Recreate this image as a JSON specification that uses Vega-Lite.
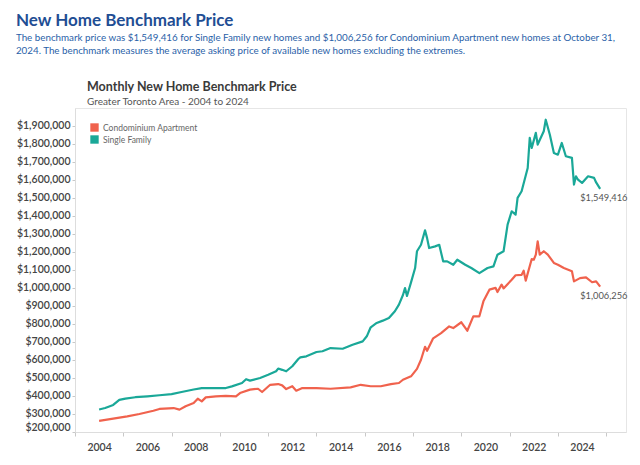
{
  "$schema": "https://vega.github.io/schema/vega-lite/v6.json",
  "background": "white",
  "padding": {"left": 15, "top": 12, "right": 13, "bottom": 5},
  "title": {
    "text": "New Home Benchmark Price",
    "subtitle": ["The benchmark price was $1,549,416 for Single Family new homes and $1,006,256 for Condominium Apartment new homes at October 31,", "2024. The benchmark measures the average asking price of available new homes excluding the extremes."],
    "anchor": "start",
    "frame": "bounds",
    "font": "Lato",
    "fontSize": 17,
    "fontWeight": "bold",
    "color": "#1f4e94",
    "subtitleFont": "Lato",
    "subtitleFontSize": 9.8,
    "subtitleColor": "#2a5fa8",
    "subtitlePadding": 3,
    "subtitleLineHeight": 13,
    "offset": 23
  },
  "datasets": {
    "prices": [
      {"date": "2004-01-01", "type": "Single Family", "price": 325000},
      {"date": "2004-04-01", "type": "Single Family", "price": 333000},
      {"date": "2004-08-01", "type": "Single Family", "price": 350000},
      {"date": "2004-11-01", "type": "Single Family", "price": 378000},
      {"date": "2005-02-01", "type": "Single Family", "price": 385000},
      {"date": "2005-07-01", "type": "Single Family", "price": 393000},
      {"date": "2006-01-01", "type": "Single Family", "price": 398000},
      {"date": "2006-07-01", "type": "Single Family", "price": 404000},
      {"date": "2007-01-01", "type": "Single Family", "price": 410000},
      {"date": "2007-06-01", "type": "Single Family", "price": 422000},
      {"date": "2007-12-01", "type": "Single Family", "price": 436000},
      {"date": "2008-04-01", "type": "Single Family", "price": 443000},
      {"date": "2008-09-01", "type": "Single Family", "price": 444000},
      {"date": "2009-04-01", "type": "Single Family", "price": 444000},
      {"date": "2009-07-01", "type": "Single Family", "price": 453000},
      {"date": "2009-12-01", "type": "Single Family", "price": 472000},
      {"date": "2010-02-01", "type": "Single Family", "price": 493000},
      {"date": "2010-04-01", "type": "Single Family", "price": 485000},
      {"date": "2010-09-01", "type": "Single Family", "price": 500000},
      {"date": "2011-01-01", "type": "Single Family", "price": 518000},
      {"date": "2011-05-01", "type": "Single Family", "price": 537000},
      {"date": "2011-06-01", "type": "Single Family", "price": 552000},
      {"date": "2011-08-01", "type": "Single Family", "price": 545000},
      {"date": "2011-10-01", "type": "Single Family", "price": 537000},
      {"date": "2012-01-01", "type": "Single Family", "price": 565000},
      {"date": "2012-04-01", "type": "Single Family", "price": 605000},
      {"date": "2012-05-01", "type": "Single Family", "price": 614000},
      {"date": "2012-08-01", "type": "Single Family", "price": 620000},
      {"date": "2013-01-01", "type": "Single Family", "price": 644000},
      {"date": "2013-04-01", "type": "Single Family", "price": 648000},
      {"date": "2013-08-01", "type": "Single Family", "price": 666000},
      {"date": "2014-02-01", "type": "Single Family", "price": 662000},
      {"date": "2014-07-01", "type": "Single Family", "price": 684000},
      {"date": "2014-12-01", "type": "Single Family", "price": 703000},
      {"date": "2015-02-01", "type": "Single Family", "price": 731000},
      {"date": "2015-04-01", "type": "Single Family", "price": 781000},
      {"date": "2015-07-01", "type": "Single Family", "price": 805000},
      {"date": "2015-10-01", "type": "Single Family", "price": 818000},
      {"date": "2016-01-01", "type": "Single Family", "price": 833000},
      {"date": "2016-04-01", "type": "Single Family", "price": 870000},
      {"date": "2016-06-01", "type": "Single Family", "price": 907000},
      {"date": "2016-08-01", "type": "Single Family", "price": 960000},
      {"date": "2016-09-01", "type": "Single Family", "price": 999000},
      {"date": "2016-10-01", "type": "Single Family", "price": 955000},
      {"date": "2016-12-01", "type": "Single Family", "price": 1030000},
      {"date": "2017-02-01", "type": "Single Family", "price": 1110000},
      {"date": "2017-03-01", "type": "Single Family", "price": 1203000},
      {"date": "2017-05-01", "type": "Single Family", "price": 1239000},
      {"date": "2017-07-01", "type": "Single Family", "price": 1319000},
      {"date": "2017-08-01", "type": "Single Family", "price": 1276000},
      {"date": "2017-09-01", "type": "Single Family", "price": 1221000},
      {"date": "2017-12-01", "type": "Single Family", "price": 1230000},
      {"date": "2018-02-01", "type": "Single Family", "price": 1239000},
      {"date": "2018-04-01", "type": "Single Family", "price": 1147000},
      {"date": "2018-06-01", "type": "Single Family", "price": 1147000},
      {"date": "2018-09-01", "type": "Single Family", "price": 1128000},
      {"date": "2018-11-01", "type": "Single Family", "price": 1156000},
      {"date": "2019-03-01", "type": "Single Family", "price": 1128000},
      {"date": "2019-06-01", "type": "Single Family", "price": 1110000},
      {"date": "2019-10-01", "type": "Single Family", "price": 1082000},
      {"date": "2020-02-01", "type": "Single Family", "price": 1110000},
      {"date": "2020-05-01", "type": "Single Family", "price": 1119000},
      {"date": "2020-07-01", "type": "Single Family", "price": 1184000},
      {"date": "2020-10-01", "type": "Single Family", "price": 1203000},
      {"date": "2020-12-01", "type": "Single Family", "price": 1351000},
      {"date": "2021-02-01", "type": "Single Family", "price": 1425000},
      {"date": "2021-04-01", "type": "Single Family", "price": 1406000},
      {"date": "2021-05-01", "type": "Single Family", "price": 1499000},
      {"date": "2021-07-01", "type": "Single Family", "price": 1536000},
      {"date": "2021-10-01", "type": "Single Family", "price": 1665000},
      {"date": "2021-11-01", "type": "Single Family", "price": 1832000},
      {"date": "2021-12-01", "type": "Single Family", "price": 1776000},
      {"date": "2022-02-01", "type": "Single Family", "price": 1860000},
      {"date": "2022-03-01", "type": "Single Family", "price": 1795000},
      {"date": "2022-06-01", "type": "Single Family", "price": 1869000},
      {"date": "2022-07-01", "type": "Single Family", "price": 1933000},
      {"date": "2022-09-01", "type": "Single Family", "price": 1850000},
      {"date": "2022-11-01", "type": "Single Family", "price": 1748000},
      {"date": "2023-01-01", "type": "Single Family", "price": 1739000},
      {"date": "2023-03-01", "type": "Single Family", "price": 1804000},
      {"date": "2023-05-01", "type": "Single Family", "price": 1730000},
      {"date": "2023-08-01", "type": "Single Family", "price": 1721000},
      {"date": "2023-09-01", "type": "Single Family", "price": 1573000},
      {"date": "2023-10-01", "type": "Single Family", "price": 1619000},
      {"date": "2023-11-01", "type": "Single Family", "price": 1600000},
      {"date": "2024-01-01", "type": "Single Family", "price": 1582000},
      {"date": "2024-04-01", "type": "Single Family", "price": 1619000},
      {"date": "2024-07-01", "type": "Single Family", "price": 1610000},
      {"date": "2024-08-01", "type": "Single Family", "price": 1585000},
      {"date": "2024-10-01", "type": "Single Family", "price": 1549416},
      {"date": "2004-01-01", "type": "Condominium Apartment", "price": 262000},
      {"date": "2004-08-01", "type": "Condominium Apartment", "price": 274000},
      {"date": "2005-03-01", "type": "Condominium Apartment", "price": 287000},
      {"date": "2005-09-01", "type": "Condominium Apartment", "price": 300000},
      {"date": "2006-04-01", "type": "Condominium Apartment", "price": 318000},
      {"date": "2006-07-01", "type": "Condominium Apartment", "price": 328000},
      {"date": "2007-02-01", "type": "Condominium Apartment", "price": 333000},
      {"date": "2007-05-01", "type": "Condominium Apartment", "price": 324000},
      {"date": "2007-08-01", "type": "Condominium Apartment", "price": 343000},
      {"date": "2007-12-01", "type": "Condominium Apartment", "price": 361000},
      {"date": "2008-02-01", "type": "Condominium Apartment", "price": 385000},
      {"date": "2008-04-01", "type": "Condominium Apartment", "price": 370000},
      {"date": "2008-06-01", "type": "Condominium Apartment", "price": 392000},
      {"date": "2008-11-01", "type": "Condominium Apartment", "price": 398000},
      {"date": "2009-04-01", "type": "Condominium Apartment", "price": 401000},
      {"date": "2009-09-01", "type": "Condominium Apartment", "price": 398000},
      {"date": "2009-11-01", "type": "Condominium Apartment", "price": 416000},
      {"date": "2010-04-01", "type": "Condominium Apartment", "price": 435000},
      {"date": "2010-08-01", "type": "Condominium Apartment", "price": 440000},
      {"date": "2010-10-01", "type": "Condominium Apartment", "price": 422000},
      {"date": "2011-02-01", "type": "Condominium Apartment", "price": 462000},
      {"date": "2011-06-01", "type": "Condominium Apartment", "price": 466000},
      {"date": "2011-08-01", "type": "Condominium Apartment", "price": 459000},
      {"date": "2011-10-01", "type": "Condominium Apartment", "price": 438000},
      {"date": "2012-01-01", "type": "Condominium Apartment", "price": 454000},
      {"date": "2012-03-01", "type": "Condominium Apartment", "price": 429000},
      {"date": "2012-06-01", "type": "Condominium Apartment", "price": 444000},
      {"date": "2013-01-01", "type": "Condominium Apartment", "price": 444000},
      {"date": "2013-08-01", "type": "Condominium Apartment", "price": 440000},
      {"date": "2014-06-01", "type": "Condominium Apartment", "price": 448000},
      {"date": "2014-11-01", "type": "Condominium Apartment", "price": 462000},
      {"date": "2015-04-01", "type": "Condominium Apartment", "price": 454000},
      {"date": "2015-09-01", "type": "Condominium Apartment", "price": 454000},
      {"date": "2016-02-01", "type": "Condominium Apartment", "price": 466000},
      {"date": "2016-06-01", "type": "Condominium Apartment", "price": 472000},
      {"date": "2016-08-01", "type": "Condominium Apartment", "price": 490000},
      {"date": "2016-12-01", "type": "Condominium Apartment", "price": 509000},
      {"date": "2017-03-01", "type": "Condominium Apartment", "price": 550000},
      {"date": "2017-05-01", "type": "Condominium Apartment", "price": 601000},
      {"date": "2017-07-01", "type": "Condominium Apartment", "price": 673000},
      {"date": "2017-08-01", "type": "Condominium Apartment", "price": 651000},
      {"date": "2017-11-01", "type": "Condominium Apartment", "price": 720000},
      {"date": "2018-03-01", "type": "Condominium Apartment", "price": 749000},
      {"date": "2018-07-01", "type": "Condominium Apartment", "price": 786000},
      {"date": "2018-09-01", "type": "Condominium Apartment", "price": 777000},
      {"date": "2019-01-01", "type": "Condominium Apartment", "price": 809000},
      {"date": "2019-04-01", "type": "Condominium Apartment", "price": 762000},
      {"date": "2019-07-01", "type": "Condominium Apartment", "price": 842000},
      {"date": "2019-10-01", "type": "Condominium Apartment", "price": 842000},
      {"date": "2019-12-01", "type": "Condominium Apartment", "price": 925000},
      {"date": "2020-03-01", "type": "Condominium Apartment", "price": 990000},
      {"date": "2020-06-01", "type": "Condominium Apartment", "price": 1000000},
      {"date": "2020-07-01", "type": "Condominium Apartment", "price": 977000},
      {"date": "2020-09-01", "type": "Condominium Apartment", "price": 1018000},
      {"date": "2020-10-01", "type": "Condominium Apartment", "price": 997000},
      {"date": "2021-02-01", "type": "Condominium Apartment", "price": 1045000},
      {"date": "2021-04-01", "type": "Condominium Apartment", "price": 1070000},
      {"date": "2021-07-01", "type": "Condominium Apartment", "price": 1072000},
      {"date": "2021-08-01", "type": "Condominium Apartment", "price": 1095000},
      {"date": "2021-09-01", "type": "Condominium Apartment", "price": 1040000},
      {"date": "2021-12-01", "type": "Condominium Apartment", "price": 1160000},
      {"date": "2022-01-01", "type": "Condominium Apartment", "price": 1156000},
      {"date": "2022-02-01", "type": "Condominium Apartment", "price": 1184000},
      {"date": "2022-03-01", "type": "Condominium Apartment", "price": 1258000},
      {"date": "2022-04-01", "type": "Condominium Apartment", "price": 1184000},
      {"date": "2022-06-01", "type": "Condominium Apartment", "price": 1203000},
      {"date": "2022-08-01", "type": "Condominium Apartment", "price": 1184000},
      {"date": "2022-11-01", "type": "Condominium Apartment", "price": 1138000},
      {"date": "2023-01-01", "type": "Condominium Apartment", "price": 1128000},
      {"date": "2023-04-01", "type": "Condominium Apartment", "price": 1110000},
      {"date": "2023-08-01", "type": "Condominium Apartment", "price": 1092000},
      {"date": "2023-09-01", "type": "Condominium Apartment", "price": 1036000},
      {"date": "2023-12-01", "type": "Condominium Apartment", "price": 1054000},
      {"date": "2024-03-01", "type": "Condominium Apartment", "price": 1058000},
      {"date": "2024-06-01", "type": "Condominium Apartment", "price": 1031000},
      {"date": "2024-08-01", "type": "Condominium Apartment", "price": 1036000},
      {"date": "2024-10-01", "type": "Condominium Apartment", "price": 1006256}
    ]
  },
  "vconcat": [
    {
      "width": 551,
      "height": 324,
      "title": {
        "text": "Monthly New Home Benchmark Price",
        "subtitle": "Greater Toronto Area - 2004 to 2024",
        "anchor": "start",
        "frame": "group",
        "dx": 12,
        "font": "Lato",
        "fontSize": 12.5,
        "fontWeight": "bold",
        "color": "#3a3a3a",
        "subtitleFont": "Lato",
        "subtitleFontSize": 10,
        "subtitleColor": "#555555",
        "subtitlePadding": 4,
        "offset": 1
      },
      "data": {"name": "prices"},
      "encoding": {
        "x": {
          "field": "date",
          "type": "temporal",
          "scale": {
            "type": "utc",
            "domain": [
              {"year": 2003, "month": 1, "date": 1, "utc": true},
              {"year": 2025, "month": 10, "date": 27, "utc": true}
            ]
          },
          "axis": {
            "title": null,
            "tickCount": {"interval": "year", "step": 1},
            "labelExpr": "utcyear(datum.value) % 2 === 0 ? utcFormat(datum.value, '%Y') : ''",
            "labelOverlap": false,
            "labelFlush": false,
            "tickColor": {"condition": {"test": "utcyear(datum.value) % 2 === 1", "value": "#c8c8c8"}, "value": "transparent"},
            "tickSize": 4,
            "labelPadding": 6
          }
        },
        "y": {
          "field": "price",
          "type": "quantitative",
          "scale": {"domain": [200000, 1998000], "nice": false, "zero": false},
          "axis": {
            "title": null,
            "values": [200000, 300000, 400000, 500000, 600000, 700000, 800000, 900000, 1000000, 1100000, 1200000, 1300000, 1400000, 1500000, 1600000, 1700000, 1800000, 1900000],
            "format": "$,.0f",
            "labelFlush": true,
            "labelOverlap": false,
            "tickSize": 3,
            "labelPadding": 2
          }
        }
      },
      "layer": [
        {
          "mark": {"type": "line", "strokeWidth": 2.2, "strokeJoin": "round"},
          "encoding": {
            "color": {
              "field": "type",
              "type": "nominal",
              "scale": {"domain": ["Condominium Apartment", "Single Family"], "range": ["#f0624d", "#1aa898"]},
              "legend": {
                "title": null,
                "orient": "top-left",
                "offset": 13,
                "symbolType": "square",
                "symbolSize": 70,
                "symbolStrokeWidth": 0,
                "labelFont": "Lato",
                "labelFontSize": 8.5,
                "labelColor": "#666666",
                "rowPadding": 3,
                "padding": 2,
                "encode": {"symbols": {"update": {"fill": {"scale": "color", "field": "value"}, "opacity": {"value": 1}}}}
              }
            }
          }
        },
        {
          "transform": [{"filter": "utcyear(datum.date) === 2024 && utcmonth(datum.date) === 9"}],
          "mark": {"type": "text", "align": "left", "baseline": "middle", "dx": -20, "dy": 9, "font": "Lato", "fontSize": 9.3, "color": "#555555"},
          "encoding": {
            "text": {"field": "price", "type": "quantitative", "format": "$,.0f"}
          }
        }
      ]
    }
  ],
  "config": {
    "font": "Lato",
    "view": {"stroke": "#e6e6e6"},
    "axis": {
      "grid": false,
      "domainColor": "#dddddd",
      "tickColor": "#c8c8c8",
      "labelFont": "Lato",
      "labelFontSize": 10.5,
      "labelFontWeight": 600,
      "labelColor": "#444444"
    }
  }
}
